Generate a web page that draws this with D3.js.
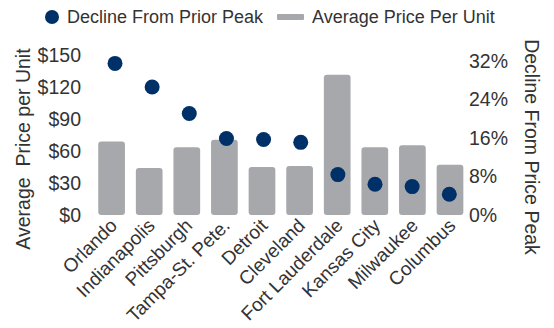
<!DOCTYPE html>
<html lang="en">
<head>
    <meta charset="UTF-8">
    <title>Average Price Per Unit vs Decline From Prior Peak</title>
    <script src="https://cdnjs.cloudflare.com/ajax/libs/d3/7.8.5/d3.min.js"></script>
    <style>
        body { margin: 0; background: #fff; }
        text { font-family: "Liberation Sans", Arial, sans-serif; fill: #333; }
    </style>
</head>
<body>
<svg id="chart" width="554" height="328"></svg>
<script>
    const cities = ["Orlando", "Indianapolis", "Pittsburgh", "Tampa-St. Pete.", "Detroit",
        "Cleveland", "Fort Lauderdale", "Kansas City", "Milwaukee", "Columbus"];
    const avgPrice = [69, 44, 63.5, 70.5, 45, 46, 131.5, 63.5, 65.5, 47];
    const decline = [0.315, 0.266, 0.211, 0.159, 0.157, 0.151, 0.084, 0.064, 0.059, 0.043];
    const priceTicks = [0, 30, 60, 90, 120, 150];
    const declineTicks = [0, 0.08, 0.16, 0.24, 0.32];

    const svg = d3.select("#chart");
    const legendSize = "18px";
    const fontSize = "19.5px";
    const labelSize = "19px";
    const barColor = "#a7a8ac";
    const dotColor = "#003068";

    const x = d3.scaleBand().domain(cities).range([92.8, 468.8]).paddingInner(0.29).paddingOuter(0.145);
    const xDot = d3.scalePoint().domain(cities).range([115, 449.3]);
    const yLeft = d3.scaleLinear().domain([0, 150]).range([215, 55]);
    const yRight = d3.scaleLinear().domain([0, 0.32]).range([215, 61]);

    // bars
    svg.append("g").selectAll("rect")
        .data(cities)
        .join("rect")
        .attr("x", (d) => x(d))
        .attr("width", x.bandwidth())
        .attr("y", (d, i) => yLeft(avgPrice[i]))
        .attr("height", (d, i) => yLeft(0) - yLeft(avgPrice[i]))
        .attr("rx", 3)
        .attr("fill", barColor);

    // dots
    svg.append("g").selectAll("circle")
        .data(cities)
        .join("circle")
        .attr("cx", (d) => xDot(d))
        .attr("cy", (d, i) => yRight(decline[i]))
        .attr("r", 7.5)
        .attr("fill", dotColor);

    // left axis
    const leftAxis = svg.append("g")
        .attr("transform", "translate(81,0)")
        .call(d3.axisLeft(yLeft).tickValues(priceTicks).tickFormat((d) => "$" + d).tickSize(0).tickPadding(0));
    leftAxis.select(".domain").remove();
    leftAxis.selectAll("text").style("font-size", fontSize).attr("fill", "#333");

    // right axis
    const rightAxis = svg.append("g")
        .attr("transform", "translate(469,0)")
        .call(d3.axisRight(yRight).tickValues(declineTicks).tickFormat(d3.format(".0%")).tickSize(0).tickPadding(0));
    rightAxis.select(".domain").remove();
    rightAxis.selectAll("text").style("font-size", fontSize).attr("fill", "#333");

    // x labels
    svg.append("g").selectAll("text")
        .data(cities)
        .join("text")
        .attr("transform", (d) => `translate(${x(d) + x.bandwidth() / 2 + 2},${222}) rotate(-45)`)
        .attr("text-anchor", "end")
        .attr("dy", "0.35em")
        .style("font-size", labelSize)
        .text((d) => d);

    // axis titles
    svg.append("text")
        .attr("transform", "translate(30,149) rotate(-90)")
        .attr("text-anchor", "middle")
        .style("font-size", fontSize)
        .style("white-space", "pre")
        .text("Average  Price per Unit");

    svg.append("text")
        .attr("transform", "translate(525,147) rotate(90)")
        .attr("text-anchor", "middle")
        .style("font-size", fontSize)
        .text("Decline From Price Peak");

    // legend
    const legend = svg.append("g");
    legend.append("circle").attr("cx", 52).attr("cy", 17).attr("r", 7).attr("fill", dotColor);
    legend.append("text").attr("x", 67).attr("y", 17).attr("dy", "0.35em")
        .style("font-size", legendSize).text("Decline From Prior Peak");
    legend.append("rect").attr("x", 277).attr("y", 14).attr("width", 27).attr("height", 6)
        .attr("rx", 1).attr("fill", barColor);
    legend.append("text").attr("x", 312).attr("y", 17).attr("dy", "0.35em")
        .style("font-size", legendSize).text("Average Price Per Unit");
</script>
</body>
</html>
